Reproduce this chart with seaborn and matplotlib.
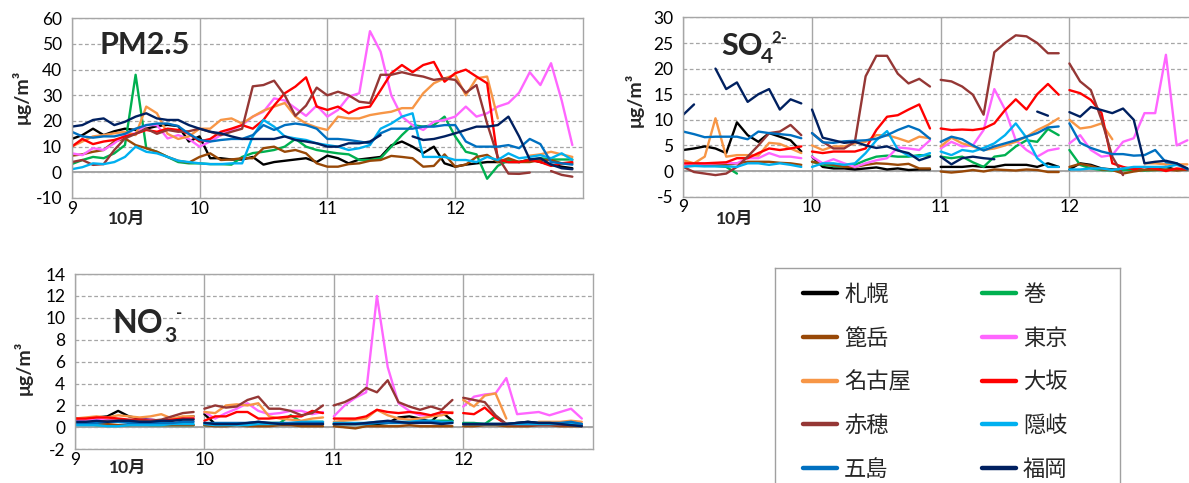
import numpy as np
import pandas as pd
import matplotlib
matplotlib.use("Agg")
import matplotlib.pyplot as plt
from matplotlib.lines import Line2D
import seaborn as sns

# ---------------- data ----------------
sites = ["札幌", "巻", "篦岳", "東京", "名古屋", "大坂", "赤穂", "隠岐", "五島", "福岡"]
colors = ["#000000", "#00B050", "#984807", "#FF66FF", "#F79646",
          "#FF0000", "#953735", "#00B0F0", "#0070C0", "#002060"]

START_DAY = 9          # 10月9日 0時
STEP_HOURS = 2         # 2時間値
xticks = [9, 10, 11, 12]
xtick_labels = ["9", "10", "11", "12"]
month_label = "10月"
unit_label = "μg/m³"
nan = np.nan

# PM2.5
pm_sapporo = [13, 14.5, 17, 14.5, 16, 17, 16.5, 17, 18, 18.5, 18, 12,
              14, 5.5, 5.5, 5, 5, 6, 3, 4, 4.5, 5, 5.5, 4,
              6.5, 5.5, 3.5, 5, 5.5, 6, 10.5, 12, 10, 7.5, 10, 3.5,
              2.2, 3, 3.5, 4, 4, 4, 4, 5, 4, 3, 2.2, 1.6]
pm_maki = [3.2, 4.8, 6, 5.5, 7.4, 10.6, 38, 9.4, 8, 6, 4, 3.5,
           3.5, 3.2, 3.2, 3, 6, 7.5, 8, 8.7, 10, 13, 10, 8.7,
           8, 7.4, 7, 4.8, 4.8, 5.5, 10, 14.5, 18.4, 17.8, 18.4, 21.7,
           14, 8, 7, -2.5, 2.5, 4.8, 4, 4.8, 5.5, 5, 5, 5]
pm_nonodake = [6.5, 7, 8, 8.7, 12, 13.2, 10.6, 9.4, 8, 6, 4.5, 3.8,
               6, 7.4, 4.8, 5, 5.5, 5.5, 9.4, 10, 8, 8.7, 7.4, 3.5,
               2.2, 2.2, 3.2, 3.5, 4.5, 4.8, 6.4, 6, 5.5, 2.2, 2.5, 7,
               2.2, 3, 6, 6.8, 4, 5.5, 4, 4, 4.8, 4.8, 3.5, 3.5]
pm_tokyo = [7.4, 6.7, 9.4, 8.7, 11.3, 14.5, 15.2, 18.4, 18.4, 13.2, 14.5, 13,
            10, 12, 14.5, 16.5, 18.4, 21.7, 23.6, 28.8, 28, 25, 22, 26,
            21.7, 24.3, 29.5, 30.8, 55, 47, 30, 21.7, 18.4, 16.5, 19.7, 20.4,
            21.7, 25.6, 21.7, 23, 25.6, 27, 31, 39, 34, 42.5, 28, 10.6]
pm_nagoya = [10, 12, 14, 14.5, 15.2, 15.8, 14.5, 25.6, 23, 15, 13, 14,
             17, 17, 20.4, 21, 19, 21.7, 24, 25.6, 27, 21.7, 19, 17.5,
             16.5, 21.7, 21, 21, 22.3, 23, 23.6, 25, 25, 30.8, 34.7, 36.6,
             38, 30, 36.6, 37.3, 21, nan, nan, 6.5, 7, 8, 7, 6]
pm_osaka = [10, 13, 11, 12, 12.6, 14, 15, 16.5, 15.8, 17, 16.5, 15,
            12, 13, 15.8, 17, 18.4, 17, 20.4, 26, 30.8, 33.4, 37, 25.6,
            24.3, 25.6, 23, 25, 25.6, 32, 38.6, 41.8, 39, 41.8, 43, 35.3,
            38.6, 40, 37.3, 34.7, 5, 4, 4, 4.8, 4, 2.5, 3.5, 4]
pm_ako = [4, 4.8, 2.9, 3.2, 8.7, 13.2, 15, 17, 15, 16.5, 15.8, 16,
          17, 15.8, 14.5, 15.8, 17, 33.5, 34, 35.7, 30, 22, 26, 33,
          30, 31.4, 30, 27.5, 27, 38, 38, 39, 38, 37.3, 36, 36.6,
          36, 31, 34, 19, 6, -0.5, -0.6, -0.1, nan, 0.5, -1, -1.7]
pm_oki = [1.2, 2, 3.5, 3.2, 4, 6, 10, 8, 7.4, 6, 4.5, 4,
          3.5, 3.2, 3.2, 3.5, 3.5, 14, 20.4, 17.8, 14, 13.2, 12.6, 11.3,
          10.6, 10, 8.7, 9.4, 10.6, 17, 19, 21.7, 23, 6, 6, 6,
          4.8, 4.8, 4, 6, 4.8, 7.4, 5.5, 6, 6.7, 5.5, 7.4, 4.8]
pm_goto = [15.8, 14, 13.5, 14, 14, 15, 17, 18.4, 19, 19, 18, 15,
           12.6, 12, 12.6, 13, 13, 14.5, 18.4, 16.5, 18.4, 19, 18.4, 17,
           13, 13, 12.6, 12, 11.3, 15.2, 17, 17, 17, 17.8, 17.8, 18.4,
           18.4, 12, 10, 10, 10, 10.6, 9.4, 13, 11, 4, 3.5, 3]
pm_fukuoka = [17.8, 18.4, 20.4, 21, 18.4, 19.7, 21.7, 23, 21, 20.4, 20.4, 18.4,
              17, 15.8, 15.2, 14, 13, 13, 13, 13, 14, 12.6, 12, 11.3,
              10, 10, 11.3, 11.3, 12, 14.5, nan, nan, 14, 12.6, 13, 14,
              15.2, 16.5, 17.8, 17.8, 18.4, 21.7, 14, 5, 5.5, 3, 1.6, 1.2]

# SO4 2-
so4_sapporo = [4.1, 4.4, 4.8, 4.4, 3.5, 9.5, 7, 5.7, 7.4, 6.7, 6, 3.8,
               2.8, 0.8, 0.5, 0.5, 0.3, 0.5, 0.7, 0.3, 0.5, 0.2, 0.3, 0.3,
               0.8, 0.8, 0.8, 1, 0.8, 0.8, 1.2, 1.2, 1.2, 0.8, 1.5, 0.8,
               0.3, 1.5, 1.2, 0.5, 0.3, 0.2, 0.3, 0.2, 0.5, 0.8, 0.2, 0.3]
so4_maki = [1, 1, 1.2, 1, 0.8, -0.5, nan, nan, nan, nan, nan, nan,
            1.8, 1.2, 1, 0.8, 1.2, 2.1, 2.8, 3, 2.8, 2.8, 3.1, 3,
            2.8, 2.5, 2.8, 1.7, 0.8, 2.8, 3.1, 4.8, 6, 5.7, 8.2, 7,
            4.1, 1.2, 0.5, 0.2, 0.1, 0.2, 0.2, 0.1, 0.2, 0.2, 0.3, 0.2]
so4_nonodake = [1, 1, 1, 1.2, 1.2, 1.5, 1.8, 1.8, 1.8, 1.6, 1.5, 1.2,
                1.8, 1.5, 1.2, 0.8, 0.8, 1.2, 1.5, 1.4, 1.2, 1.4, 0.5, 0.5,
                -0.1, -0.3, -0.1, 0.2, -0.1, 0.3, 0.2, 0.1, 0.3, 0.2, -0.2, -0.2,
                0.8, 1.4, 1, 0.3, 0.2, -0.5, -0.1, 0.2, 0.2, 0.3, 0.1, 0.3]
so4_tokyo = [1.2, 1.5, 1.4, 1.5, 1.6, 1.5, 2.5, 2.5, 3.5, 2.8, 2.8, 2.5,
             2.8, 1.5, 2.3, 1.5, 0.8, 1.5, 2.1, 2.5, 4.6, 4.4, 4.1, 6,
             4.4, 5.7, 4.8, 5, 8, 16, 12, 6, 4.1, 2.8, 4, 4.4,
             5.4, 7, 4.1, 2.8, 3.1, 5.7, 6.4, 11.3, 11.3, 22.7, 5, 6]
so4_nagoya = [2.1, 1.5, 2.8, 10.3, 2.8, 3.1, 3.1, 3, 5.5, 5.3, 4.4, 3.5,
              5, 4.1, 4.8, 4.8, 5.4, 5.7, 7, 7, 6.4, 5.7, 6.7, 6.4,
              4.8, 6.5, 5.4, 4.8, 4.1, 4.4, 5, 5.7, 6.7, 8, 9, 10.3,
              10, 8.3, 8.6, 9.3, 6.2, nan, nan, 1.5, 1.5, 1.3, 1.3, 1.3]
so4_osaka = [1.5, 1.5, 1.5, 1.6, 1.7, 2.5, 2.5, 3.5, 4.4, 4.1, 4.4, 4.8,
             3.8, 3.5, 3.8, 3.8, 3.8, 4.4, 8, 10.6, 10.9, 12, 13, 8.3,
             8.3, 8, 8.1, 8, 8.3, 9.3, 11.9, 14, 12, 15, 17, 14.9,
             15.8, 15.2, 13.9, 11.3, 1.5, 0.8, 0.3, 0.8, 0.5, 0, 0.5, 0.3]
so4_ako = [0.8, -0.2, -0.5, -0.8, -0.5, 0.8, 2.8, 5, 7.4, 7.7, 9, 7,
           7.4, 5.7, 4.4, 4.4, 5.7, 18.5, 22.5, 22.5, 19, 17.1, 18, 16.5,
           17.8, 17.5, 16.5, 14.9, 11, 23.2, 25, 26.5, 26.3, 25, 23, 23,
           21, 17.5, 15.8, 10, 2.8, -0.8, nan, nan, nan, nan, nan, nan]
so4_oki = [0.8, 1, 0.9, 0.9, 0.9, 0.8, 1.5, 1.5, 1.2, 1.5, 1.2, 0.8,
           0.8, 1.5, 1.5, 1.2, 1.5, 3.5, 6, 7.8, 4.2, 3, 2.8, 3.5,
           3.8, 3.1, 4.1, 3.8, 4.5, 5.4, 7, 9.3, 6.5, 2.5, 0.8, 0.8,
           0.3, 0.3, 0.5, 0.5, 0.2, 0.5, 0.8, 0.8, 0.8, 0.8, 1.2, 0.5]
so4_goto = [7.7, 7.2, 6.6, 6.7, 6.7, 6.7, 6.2, 7.7, 7.4, 7.2, 7, 6.4,
            7.4, 5.6, 5.5, 5.8, 5.9, 6, 6.3, 7, 8, 8.8, 8, 6.3,
            5.7, 6.7, 6.2, 5, 4, 4.8, 5.4, 6, 6.7, 7.4, 8.5, 8.7,
            9.3, 5.5, 4.5, 3.8, 3.3, 3.3, 3, 3.1, 4.1, 1.7, 1.5, 0.3]
so4_fukuoka = [11, 13, nan, 20, 16, 17.3, 13.5, 15, 16, 12, 14, 13.2,
               12, 6.5, 6, 5.5, 5.7, 5, 4.5, 4.8, 4, 3.5, 2.1, 2.8,
               2.8, 1.3, 2.5, 2.8, 2.5, 2.3, nan, nan, nan, 11.6, 10.8, nan,
               11.5, 10.6, 12.5, 11.9, 11.3, 12.2, 10, 1.5, 1.8, 2, 1.5, 0.5]

# NO3 -
no3_sapporo = [0.8, 0.8, 0.9, 1.0, 1.5, 1.0, 0.8, 0.7, 0.6, 0.6, 0.9, 1.0,
               1.2, 0.3, 0.3, 0.3, 0.2, 0.3, 0.3, 0.3, 0.3, 0.3, 0.3, 0.3,
               0.3, 0.3, 0.3, 0.3, 0.3, 0.4, 0.9, 1.0, 0.8, 0.5, 1.4, 0.6,
               0.3, 0.3, 0.3, 0.3, 0.3, 0.4, 0.5, 0.4, 0.4, 0.3, 0.3, 0.2]
no3_maki = [0.3, 0.3, 0.2, 0.2, 0.2, 0.2, 0.3, 0.2, 0.2, 0.2, 0.2, 0.2,
            0.2, 0.2, 0.3, 0.3, 0.3, 0.3, 0.4, 0.4, 1.1, 0.5, 0.5, 0.5,
            0.3, 0.3, 0.3, 0.3, 0.4, 0.4, 0.4, 0.5, 0.5, 0.6, 0.6, 0.6,
            0.4, 0.4, 0.3, 1.0, 0.3, 0.3, 0.3, 0.3, 0.3, 0.3, 0.3, 0.3]
no3_nonodake = [0.4, 0.4, 0.3, 0.3, 0.2, 0.2, 0.2, 0.2, 0.2, 0.2, 0.2, 0.2,
                0.2, 0.1, 0.1, 0.2, 0.1, 0.1, 0.1, 0.2, 0.2, 0.1, 0.1, 0.1,
                0.1, 0.0, -0.1, 0.1, 0.1, 0.1, 0.1, 0.2, 0.1, 0.1, 0.1, 0.1,
                0.1, 0.1, 0.2, 0.2, 0.1, 0.1, 0.1, 0.2, 0.2, 0.1, 0.1, 0.1]
no3_tokyo = [0.6, 0.7, 0.8, 0.7, 0.6, 0.6, 0.7, 0.7, 0.6, 0.7, 0.8, 0.9,
             1.4, 0.8, 1.3, 1.7, 2.2, 1.5, 1.2, 1.3, 1.5, 1.5, 1.2, 1.4,
             1.0, 2.0, 2.7, 3.2, 12.0, 5.5, 2.2, 1.5, 1.1, 1.1, 1.3, 1.4,
             1.9, 2.8, 3.0, 3.1, 4.5, 1.2, 1.3, 1.4, 1.1, 1.4, 1.7, 0.8]
no3_nagoya = [0.8, 0.9, 1.0, 0.9, 1.1, 1.0, 0.9, 1.0, 1.2, 0.8, 1.0, 1.0,
              1.4, 1.3, 2.0, 2.1, 2.0, 2.2, 1.0, 0.8, 0.7, 0.6, 0.8, 0.9,
              0.5, 0.6, 0.7, 0.8, 1.6, 1.1, 0.8, 0.7, 0.8, 1.0, 1.1, 1.4,
              2.5, 1.9, 2.9, 3.1, 0.8, nan, nan, 0.5, 0.5, 0.5, 0.6, 0.5]
no3_osaka = [0.8, 0.8, 0.9, 0.9, 0.8, 0.7, 0.7, 0.6, 0.6, 0.7, 0.8, 0.8,
             0.6, 1.0, 1.0, 1.4, 1.4, 0.8, 0.8, 0.9, 1.0, 1.0, 1.5, 1.3,
             0.8, 0.8, 0.8, 1.0, 1.6, 1.4, 1.3, 1.4, 1.3, 1.1, 1.4, 1.3,
             1.3, 1.2, 1.8, 0.9, 0.3, 0.3, 0.3, 0.3, 0.3, 0.3, 0.3, 0.3]
no3_ako = [0.5, 0.5, 0.5, 0.6, 0.6, 0.6, 0.6, 0.6, 0.7, 1.0, 1.3, 1.4,
           1.7, 2.0, 1.8, 1.9, 2.5, 2.8, 1.7, 1.7, 1.5, 1.1, 1.3, 2.0,
           2.0, 2.3, 2.8, 3.6, 3.2, 4.3, 2.3, 1.9, 1.6, 1.9, 1.6, 2.5,
           2.7, 2.5, 2.3, 1.1, 0.3, 0.2, 0.2, 0.2, 0.2, 0.2, 0.2, 0.2]
no3_oki = [0.2, 0.2, 0.2, 0.1, 0.1, 0.2, 0.2, 0.2, 0.2, 0.3, 0.3, 0.3,
           0.3, 0.2, 0.2, 0.2, 0.2, 0.3, 0.3, 0.3, 0.4, 0.5, 0.5, 0.5,
           0.4, 0.4, 0.4, 0.4, 0.5, 0.5, 0.5, 0.5, 0.6, 0.6, 0.5, 0.5,
           0.3, 0.3, 0.3, 0.3, 0.3, 0.3, 0.3, 0.3, 0.3, 0.3, 0.4, 0.3]
no3_goto = [0.4, 0.4, 0.4, 0.5, 0.5, 0.4, 0.4, 0.4, 0.4, 0.4, 0.5, 0.5,
            0.4, 0.4, 0.4, 0.4, 0.4, 0.5, 0.4, 0.4, 0.4, 0.4, 0.4, 0.4,
            0.3, 0.3, 0.3, 0.3, 0.4, 0.4, 0.4, 0.4, 0.5, 0.5, 0.4, 0.4,
            0.3, 0.3, 0.3, 0.3, 0.3, 0.4, 0.4, 0.4, 0.4, 0.4, 0.5, 0.3]
no3_fukuoka = [0.5, 0.5, 0.6, 0.5, 0.6, 0.6, 0.5, 0.5, 0.6, 0.6, 0.7, 0.7,
               0.4, 0.3, 0.3, 0.3, 0.4, 0.5, 0.4, 0.3, 0.3, 0.3, 0.3, 0.3,
               0.3, 0.3, 0.3, 0.4, 0.5, 0.6, 0.5, 0.4, 0.4, 0.4, 0.3, 0.4,
               0.3, 0.3, 0.3, 0.3, 0.3, 0.4, 0.5, 0.4, 0.4, 0.3, 0.2, 0.1]

pm_series = [pm_sapporo, pm_maki, pm_nonodake, pm_tokyo, pm_nagoya,
             pm_osaka, pm_ako, pm_oki, pm_goto, pm_fukuoka]
so4_series = [so4_sapporo, so4_maki, so4_nonodake, so4_tokyo, so4_nagoya,
              so4_osaka, so4_ako, so4_oki, so4_goto, so4_fukuoka]
no3_series = [no3_sapporo, no3_maki, no3_nonodake, no3_tokyo, no3_nagoya,
              no3_osaka, no3_ako, no3_oki, no3_goto, no3_fukuoka]


def to_long(series, split_days):
    frames = []
    for site, vals in zip(sites, series):
        v = np.asarray(vals, dtype=float)
        t = START_DAY + np.arange(len(v)) * STEP_HOURS / 24.0
        seg = np.cumsum(np.isnan(v)).astype(float)
        if split_days:  # filter samples: separate line for each day
            seg = seg + 1000 * np.floor(t + 1e-9)
        keep = ~np.isnan(v)
        frames.append(pd.DataFrame({"t": t[keep], "v": v[keep],
                                    "site": site, "seg": seg[keep]}))
    return pd.concat(frames, ignore_index=True)


# ---------------- style ----------------
sns.set_theme(style="white")
plt.rcParams["font.family"] = ["Lato", "Noto Sans CJK JP", "DejaVu Sans"]
plt.rcParams["axes.unicode_minus"] = False

GRID = "#A6A6A6"
palette = dict(zip(sites, colors))

fig = plt.figure(figsize=(11.89, 4.83), dpi=100)
W, H = 1189.0, 483.0


def fig_rect(x0, y_top, x1, y_bot):
    return [x0 / W, 1 - y_bot / H, (x1 - x0) / W, (y_bot - y_top) / H]


def ftext(x, y, s, **kw):
    return fig.text(x / W, 1 - y / H, s, **kw)


def panel(rect, series, split, ylo, yhi, ystep):
    ax = fig.add_axes(rect)
    df = to_long(series, split)
    sns.lineplot(data=df, x="t", y="v", hue="site", units="seg",
                 estimator=None, palette=palette, hue_order=sites,
                 legend=False, lw=1.7, ax=ax)
    ax.set_xlim(9, 13)
    ax.set_ylim(ylo, yhi)
    ax.set_yticks(np.arange(ylo, yhi + ystep / 2, ystep))
    ax.set_xticks(xticks)
    ax.set_xticklabels(xtick_labels)
    ax.set_xlabel("")
    ax.set_ylabel("")
    ax.set_axisbelow(True)
    ax.yaxis.grid(True, ls=(0, (3, 2)), color=GRID, lw=0.9)
    ax.xaxis.grid(True, ls="-", color=GRID, lw=1.0)
    ax.axhline(0, color=GRID, lw=1.4, zorder=0.5)
    for s in ax.spines.values():
        s.set_visible(True)
        s.set_color(GRID)
        s.set_linewidth(1.0)
    ax.tick_params(axis="both", labelsize=12.5, labelcolor="black")
    ax.tick_params(axis="y", length=4, width=1, color=GRID, direction="out", pad=3)
    ax.tick_params(axis="x", length=0, pad=2)
    return ax


ax_pm = panel(fig_rect(71.7, 18.3, 583.0, 198.0), pm_series, False, -10, 60, 10)
ax_so4 = panel(fig_rect(683.3, 17.4, 1198.1, 196.6), so4_series, True, -5, 30, 5)
ax_no3 = panel(fig_rect(75.0, 274.1, 592.6, 449.2), no3_series, True, -2, 14, 2)

# panel titles (Excel-style sub/superscripts)
ftext(99, 54, "PM2.5", fontsize=22, fontweight="bold", va="baseline")
ftext(721, 55, "SO", fontsize=22, fontweight="bold", va="baseline")
ftext(761, 63, "4", fontsize=15, fontweight="bold", va="baseline")
ftext(771, 43, "2-", fontsize=12, fontweight="bold", va="baseline")
ftext(112, 333, "NO", fontsize=23, fontweight="bold", va="baseline")
ftext(164, 342, "3", fontsize=15, fontweight="bold", va="baseline")
ftext(176, 318, "-", fontsize=12, fontweight="bold", va="baseline")

for (x, y) in [(21, 97), (634, 100), (23, 368)]:
    ftext(x, y, unit_label, rotation=90, ha="center", va="center",
          fontsize=14, fontweight="bold")
for (x, y) in [(127, 219), (735, 219), (128, 468)]:
    ftext(x, y, month_label, ha="center", va="center",
          fontsize=12.5, fontweight="bold")

# legend box (continues below the figure edge)
lax = fig.add_axes(fig_rect(775, 268, 1120, 500))
lax.set_xticks([])
lax.set_yticks([])
lax.set_facecolor("white")
for s in lax.spines.values():
    s.set_color("#A0A0A0")
    s.set_linewidth(1.0)
order = sites[0::2] + sites[1::2]
handles = [Line2D([], [], color=palette[s], lw=3.2, solid_capstyle="round") for s in order]
lax.legend(handles, order, ncol=2, loc="upper left",
           bbox_to_anchor=((803 - 775) / 345.0, 1 - 15 / 232.0),
           frameon=False, prop={"family": "Noto Sans CJK JP", "size": 16},
           handlelength=1.55, handletextpad=0.3, columnspacing=3.2,
           labelspacing=0.93, borderpad=0, borderaxespad=0)

fig.savefig("out.png", dpi=100)
